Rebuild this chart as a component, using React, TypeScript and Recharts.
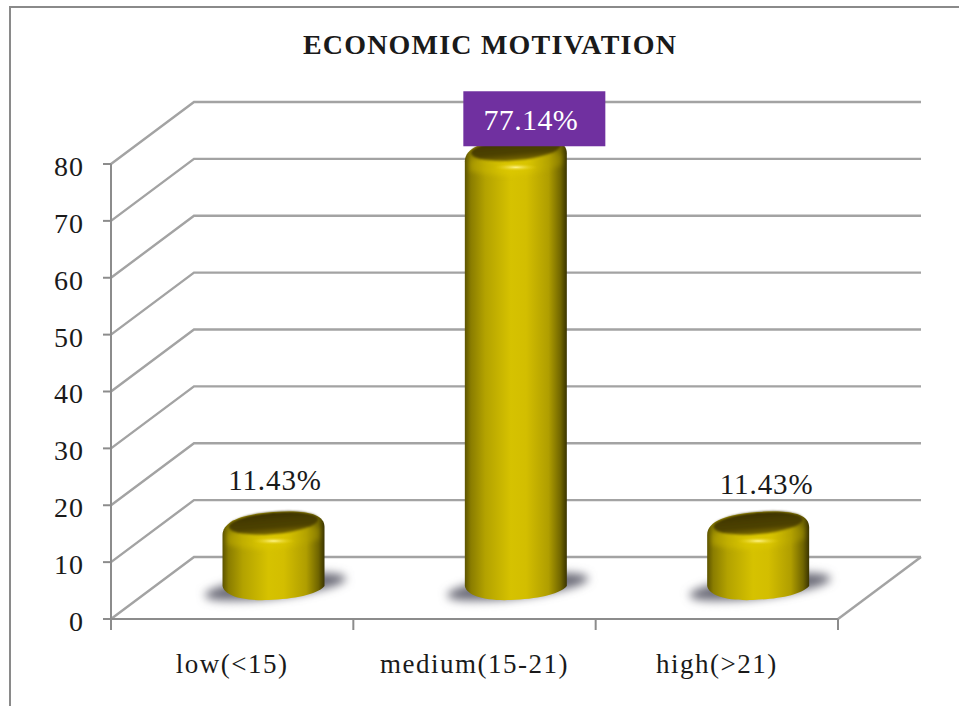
import React from 'react';
import { BarChart, Bar, XAxis, YAxis, ReferenceLine, LabelList } from 'recharts';

const categories = ['low(<15)', 'medium(15-21)', 'high(>21)'];
const percentages = [11.43, 77.14, 11.43];
const yTicks = [0, 10, 20, 30, 40, 50, 60, 70, 80];

const chartData = categories.map((name, i) => ({ name, percent: percentages[i] }));

const SERIF = '"Liberation Serif", serif';
const GRID = '#a3a3a3';
const AXIS = '#8c8c8c';
// how far the back wall sits from the front of the box
const DEPTH_X = 83;
const DEPTH_Y = -62;
const STEP = 242.33;

const WallLine = (props: any) => {
  const { x1, x2, y1 } = props;
  const floor = props.floor;
  return (
    <g fill="none" stroke={GRID} strokeWidth={2.4}>
      <path d={`M${x1} ${y1}L${x1 + DEPTH_X} ${y1 + DEPTH_Y}L${x2 + DEPTH_X} ${y1 + DEPTH_Y}`} />
      {floor && <path d={`M${x2} ${y1}L${x2 + DEPTH_X} ${y1 + DEPTH_Y}`} />}
    </g>
  );
};

// cylinder standing halfway into the floor
const Cylinder = (props: any) => {
  const { x, y, width, height } = props;
  const cx = x + width / 2 + DEPTH_X / 2;
  const top = y + DEPTH_Y / 2;
  const base = y + height + DEPTH_Y / 2;
  const rx = width / 2;
  const l = cx - rx;
  const r = cx + rx;
  const outline =
    `M${l} ${top + 12}` +
    `C${l} ${top - 2} ${cx - rx * 0.6} ${top - 9} ${cx} ${top - 11}` +
    `C${cx + rx * 0.6} ${top - 13} ${r} ${top - 10} ${r} ${top + 4}` +
    `L${r} ${base - 2}` +
    `C${r - 8} ${base + 7} ${cx + rx * 0.4} ${base + 11} ${cx - rx * 0.1} ${base + 12}` +
    `C${cx - rx * 0.6} ${base + 13} ${l + 2} ${base + 8} ${l} ${base - 2}Z`;
  return (
    <g>
      <ellipse
        cx={cx + 2}
        cy={base - 1}
        rx={rx + 20}
        ry={11}
        fill="#6c6c78"
        filter="url(#floorShadow)"
        transform={`rotate(-7 ${cx} ${base})`}
      />
      <path d={outline} fill="url(#bodyFill)" />
      <path
        d={`M${l + 5} ${top + 10}L${r - 5} ${top + 4}L${r - 5} ${top + 16}Q${cx} ${top + 32} ${l + 5} ${top + 22}Z`}
        fill="url(#rimFill)"
        opacity={0.6}
        filter="url(#rimBlur)"
      />
      <ellipse
        cx={cx}
        cy={top}
        rx={rx - 6}
        ry={11}
        fill="url(#capFill)"
        filter="url(#softEdge)"
        transform={`rotate(-5 ${cx} ${top})`}
      />
      <ellipse cx={cx} cy={top + 18} rx={22} ry={4} fill="url(#glint)" />
    </g>
  );
};

const ValueLabel = (props: any) => {
  const { x, y, width, value, index } = props;
  const text = `${value}%`;
  const cx = x + width / 2;
  if (index === 1) {
    return (
      <g>
        <rect x={cx - 11} y={y - 89} width={142} height={55} fill="#7030a0" />
        <text x={cx + 56.5} y={y - 50} textAnchor="middle" fill="#ffffff" fontFamily={SERIF} fontSize={30} letterSpacing={0.4}>
          {text}
        </text>
      </g>
    );
  }
  const shift = index === 0 ? 43 : 50;
  const raise = index === 0 ? 64 : 60;
  return (
    <text x={cx + shift} y={y - raise} textAnchor="middle" fill="#1a1a1a" fontFamily={SERIF} fontSize={29} letterSpacing={0.9}>
      {text}
    </text>
  );
};

const CategoryTick = (props: any) => {
  const { x, y, payload, index } = props;
  return (
    <g>
      <line x1={x - STEP / 2} x2={x - STEP / 2} y1={y - 8} y2={y + 3} stroke={AXIS} strokeWidth={2} />
      {index === categories.length - 1 && (
        <line x1={x + STEP / 2} x2={x + STEP / 2} y1={y - 8} y2={y + 3} stroke={AXIS} strokeWidth={2} />
      )}
      <text x={x} y={y + 46} textAnchor="middle" fill="#1a1a1a" fontFamily={SERIF} fontSize={27} letterSpacing={1.5}>
        {payload.value}
      </text>
    </g>
  );
};

export default function App() {
  return (
    <div style={{ position: 'absolute', left: 0, top: 0, width: 959, height: 706, background: '#fff', overflow: 'hidden' }}>
      <div style={{ position: 'absolute', left: 9, top: 6, width: 960, height: 720, borderLeft: '2.5px solid #8a8a8a', borderTop: '2.5px solid #8a8a8a' }} />
      <div style={{ position: 'absolute', left: 0, top: 26, width: 980, textAlign: 'center', fontFamily: SERIF, fontWeight: 700, fontSize: 28, letterSpacing: 1.2, color: '#1a1a1a', lineHeight: '38px' }}>
        ECONOMIC MOTIVATION
      </div>
      <div style={{ position: 'absolute', left: 0, top: 0 }}>
        <BarChart width={959} height={706} data={chartData} margin={{ top: 164, right: 121, bottom: 47, left: 51 }}>
          <defs>
            <linearGradient id="bodyFill" x1="0" y1="0" x2="1" y2="0">
              <stop offset="0" stopColor="#5c5300" />
              <stop offset="0.06" stopColor="#8a7d00" />
              <stop offset="0.2" stopColor="#b3a200" />
              <stop offset="0.45" stopColor="#d6c200" />
              <stop offset="0.6" stopColor="#d3be00" />
              <stop offset="0.82" stopColor="#b09e00" />
              <stop offset="0.94" stopColor="#706500" />
              <stop offset="1" stopColor="#3a3400" />
            </linearGradient>
            <linearGradient id="rimFill" x1="0" y1="0" x2="1" y2="0">
              <stop offset="0" stopColor="#b8a600" />
              <stop offset="0.35" stopColor="#e0cc00" />
              <stop offset="0.65" stopColor="#ddc900" />
              <stop offset="1" stopColor="#9b8c00" />
            </linearGradient>
            <linearGradient id="capFill" x1="0" y1="0" x2="0" y2="1">
              <stop offset="0" stopColor="#3d3300" />
              <stop offset="0.7" stopColor="#4f4300" />
              <stop offset="1" stopColor="#7a6a00" />
            </linearGradient>
            <radialGradient id="glint">
              <stop offset="0" stopColor="#fff489" />
              <stop offset="1" stopColor="#e0c800" stopOpacity="0" />
            </radialGradient>
            <filter id="floorShadow" x="-30%" y="-100%" width="160%" height="300%">
              <feGaussianBlur stdDeviation="5" />
            </filter>
            <filter id="softEdge" x="-10%" y="-30%" width="120%" height="160%">
              <feGaussianBlur stdDeviation="1" />
            </filter>
            <filter id="rimBlur" x="-10%" y="-40%" width="120%" height="180%">
              <feGaussianBlur stdDeviation="2.5" />
            </filter>
          </defs>
          <XAxis
            dataKey="name"
            height={40}
            axisLine={{ stroke: AXIS, strokeWidth: 2 }}
            tickLine={false}
            tick={<CategoryTick />}
            interval={0}
          />
          <YAxis
            domain={[0, 80]}
            ticks={yTicks}
            width={60}
            tickSize={8}
            tickMargin={19}
            axisLine={{ stroke: AXIS, strokeWidth: 2 }}
            tickLine={{ stroke: AXIS, strokeWidth: 2 }}
            tick={{ fill: '#1a1a1a', fontFamily: SERIF, fontSize: 28, dy: 2, letterSpacing: 1 }}
          />
          {yTicks.map((v) => (
            <ReferenceLine key={v} y={v} zIndex={-100} ifOverflow="visible" shape={<WallLine floor={v === 0} />} />
          ))}
          <Bar dataKey="percent" barSize={102} isAnimationActive={false} shape={<Cylinder />}>
            <LabelList dataKey="percent" content={<ValueLabel />} />
          </Bar>
        </BarChart>
      </div>
    </div>
  );
}
